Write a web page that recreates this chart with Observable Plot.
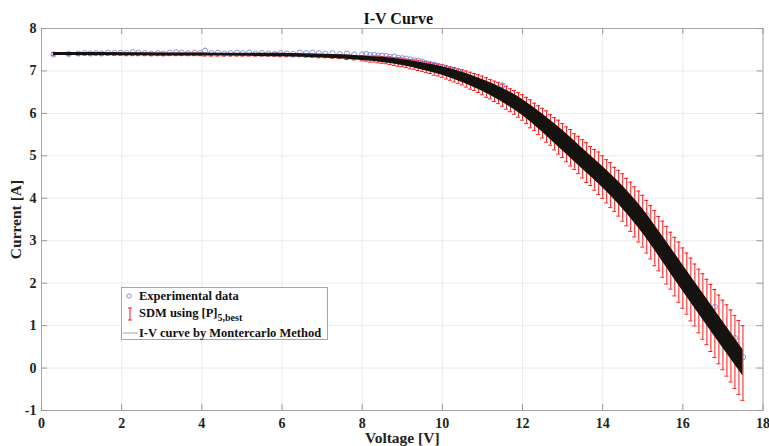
<!DOCTYPE html>
<html><head><meta charset="utf-8">
<script src="https://cdn.jsdelivr.net/npm/d3@7"></script>
<script src="https://cdn.jsdelivr.net/npm/@observablehq/plot@0.6"></script>
<style>
body{margin:0;background:#fff;}
#wrap{position:relative;width:769px;height:446px;}
#legend{position:absolute;left:121px;top:287px;width:205px;height:51px;border:1px solid #a6a6a6;background:#fff;font-family:"Liberation Serif","Times New Roman",serif;font-weight:bold;font-size:12.5px;color:#111;}
#legend .t{position:absolute;left:17px;white-space:nowrap;line-height:14px;}
#legend sub{font-size:10px;vertical-align:-4px;line-height:0;}
</style></head><body><div id="wrap"></div>
<script>
// ---- data ----
const voltage = [
0.30,0.68,0.92,1.08,1.22,1.36,1.50,1.66,1.82,1.98,2.12,2.28,2.42,2.58,2.74,2.90,3.04,3.20,3.36,3.50,3.66,3.82,3.96,4.08,4.24,4.40,4.56,4.72,4.88,5.02,5.18,5.34,5.50,5.66,5.82,5.96,6.12,6.28,6.44,6.60,6.76,6.92,7.08,7.26,7.44,7.62,7.80,
8.0,8.1,8.2,8.3,8.4,8.5,8.6,8.7,8.8,8.9,
9.0,9.1,9.2,9.3,9.4,9.5,9.6,9.7,9.8,9.9,
10.0,10.1,10.2,10.3,10.4,10.5,10.6,10.7,10.8,10.9,
11.0,11.1,11.2,11.3,11.4,11.5,11.6,11.7,11.8,11.9,
12.0,12.1,12.2,12.3,12.4,12.5,12.6,12.7,12.8,12.9,
13.0,13.1,13.2,13.3,13.4,13.5,13.6,13.7,13.8,13.9,
14.0,14.1,14.2,14.3,14.4,14.5,14.6,14.7,14.8,14.9,
15.0,15.1,15.2,15.3,15.4,15.5,15.6,15.7,15.8,15.9,
16.0,16.1,16.2,16.3,16.4,16.5,16.6,16.7,16.8,16.9,
17.0,17.1,17.2,17.3,17.4,17.5];

const currentExp = [
7.39,7.40,7.41,7.42,7.41,7.42,7.41,7.43,7.42,7.43,7.42,7.44,7.43,7.42,7.41,7.42,7.41,7.43,7.44,7.43,7.42,7.43,7.42,7.48,7.42,7.43,7.41,7.42,7.43,7.42,7.43,7.41,7.42,7.41,7.40,7.42,7.41,7.40,7.43,7.42,7.43,7.42,7.41,7.42,7.40,7.41,7.39,
7.39,7.40,7.37,7.38,7.36,7.36,7.35,7.33,7.34,7.31,
7.30,7.29,7.27,7.25,7.24,7.22,7.18,7.16,7.15,7.12,
7.10,7.06,7.03,7.00,6.98,6.94,6.88,6.84,6.80,6.76,
6.71,6.66,6.62,6.57,6.52,6.66,6.41,6.36,6.30,6.24,
6.18,6.10,6.03,5.95,5.88,5.80,5.72,5.64,5.56,5.47,
5.39,5.30,5.22,5.13,5.05,4.96,4.87,4.79,4.70,4.62,
4.53,4.44,4.34,4.25,4.15,4.06,3.95,3.83,3.72,3.61,
3.50,3.59,3.23,3.10,2.97,2.84,2.70,2.57,2.43,2.30,
2.16,2.03,1.89,1.76,1.62,1.49,1.36,1.22,1.44,0.96,
0.82,0.69,0.56,0.71,0.30,0.26];

// SDM model current (error bar centres)
const currentSDM = [
7.40,7.40,7.40,7.40,7.40,7.40,7.40,7.40,7.40,7.40,7.39,7.39,7.39,7.39,7.39,7.39,7.39,7.39,7.39,7.39,7.39,7.39,7.39,7.38,7.38,7.38,7.38,7.38,7.38,7.38,7.38,7.38,7.38,7.38,7.38,7.37,7.37,7.37,7.37,7.36,7.36,7.35,7.35,7.34,7.33,7.32,7.31,
7.30,7.29,7.28,7.28,7.27,7.26,7.25,7.24,7.22,7.21,
7.20,7.18,7.16,7.15,7.13,7.11,7.09,7.07,7.04,7.02,
7.00,6.97,6.94,6.91,6.88,6.85,6.81,6.77,6.74,6.70,
6.66,6.61,6.57,6.52,6.48,6.43,6.37,6.31,6.26,6.20,
6.14,6.07,5.99,5.92,5.84,5.77,5.69,5.61,5.52,5.44,
5.36,5.27,5.19,5.10,5.02,4.93,4.84,4.76,4.67,4.59,
4.50,4.40,4.31,4.21,4.12,4.02,3.91,3.80,3.68,3.57,
3.46,3.33,3.20,3.06,2.93,2.80,2.66,2.53,2.39,2.26,
2.12,1.99,1.85,1.72,1.58,1.45,1.32,1.18,1.05,0.91,
0.78,0.65,0.52,0.38,0.25,0.12];

// half length of each error bar
const errorHalf = [
0.03,0.03,0.03,0.03,0.03,0.03,0.03,0.03,0.03,0.03,0.03,0.03,0.03,0.03,0.03,0.03,0.03,0.03,0.03,0.03,0.03,0.03,0.03,0.03,0.03,0.03,0.03,0.03,0.03,0.03,0.03,0.03,0.03,0.03,0.035,0.035,0.035,0.035,0.035,0.035,0.035,0.04,0.04,0.04,0.04,0.05,0.05,
0.06,0.06,0.07,0.07,0.08,0.08,0.08,0.09,0.09,0.10,
0.10,0.10,0.11,0.11,0.12,0.12,0.13,0.13,0.14,0.14,
0.15,0.16,0.16,0.17,0.17,0.18,0.19,0.20,0.20,0.21,
0.22,0.23,0.23,0.24,0.25,0.26,0.27,0.27,0.28,0.29,
0.30,0.31,0.33,0.32,0.34,0.35,0.37,0.36,0.38,0.40,
0.40,0.41,0.43,0.42,0.44,0.45,0.47,0.46,0.48,0.50,
0.50,0.51,0.53,0.52,0.54,0.56,0.56,0.58,0.59,0.60,
0.61,0.62,0.63,0.65,0.64,0.66,0.68,0.67,0.69,0.71,
0.71,0.72,0.74,0.73,0.75,0.77,0.77,0.79,0.80,0.81,
0.82,0.84,0.85,0.86,0.87,0.88];

// Montecarlo I-V curves envelope
const mcVoltage = [0.3,1,2,3,4,5,6,6.5,7,7.5,8,8.5,9,9.5,10,10.5,11,11.5,12,12.5,13,13.5,14,14.5,15,15.5,16,16.5,17,17.5];
const mcCurrent = [7.40,7.40,7.395,7.39,7.385,7.38,7.375,7.365,7.35,7.33,7.30,7.26,7.20,7.11,7.00,6.85,6.66,6.43,6.14,5.77,5.36,4.93,4.50,4.02,3.46,2.80,2.12,1.45,0.78,0.12];
const mcSpread  = [0.035,0.035,0.035,0.035,0.035,0.035,0.04,0.04,0.045,0.05,0.055,0.06,0.07,0.085,0.10,0.12,0.14,0.165,0.19,0.215,0.24,0.245,0.25,0.27,0.29,0.30,0.31,0.31,0.31,0.31];

const xTicks = [0,2,4,6,8,10,12,14,16,18];
const yTicks = [-1,0,1,2,3,4,5,6,7,8];
const titleText = "I-V Curve";
const xLabel = "Voltage [V]";
const yLabel = "Current [A]";

// ---- build ----
const rows = voltage.map((v, i) => ({v, exp: currentExp[i], fit: currentSDM[i], err: errorHalf[i]}));
const band = mcVoltage.map((v, i) => ({v, lo: mcCurrent[i] - mcSpread[i], hi: mcCurrent[i] + mcSpread[i]}));

const capHalf = 0.05;   // V
const tickLenX = 0.14;  // A (vertical tick length)
const tickLenY = 0.15;  // V (horizontal tick length)
const axisGray = "#a8a8a8";
const serif = '"Liberation Serif","Times New Roman",serif';

const chart = Plot.plot({
  width: 769, height: 446,
  marginLeft: 41, marginRight: 6.5, marginTop: 28, marginBottom: 36,
  x: {domain: [0, 18], axis: null},
  y: {domain: [-1, 8], axis: null},
  style: {fontFamily: serif, fontWeight: "bold", fontSize: "14px", color: "#222", background: "#fff"},
  marks: [
    Plot.gridX(xTicks, {x: d => d, stroke: "#ebebeb", strokeOpacity: 1}),
    Plot.gridY(yTicks, {y: d => d, stroke: "#ebebeb", strokeOpacity: 1}),
    Plot.ruleX(rows, {x: "v", y1: d => d.fit - d.err, y2: d => d.fit + d.err, stroke: "#ff1a1a", strokeWidth: 1}),
    Plot.ruleY(rows, {y: d => d.fit + d.err, x1: d => d.v - capHalf, x2: d => d.v + capHalf, stroke: "#ff1a1a", strokeWidth: 1}),
    Plot.ruleY(rows, {y: d => d.fit - d.err, x1: d => d.v - capHalf, x2: d => d.v + capHalf, stroke: "#ff1a1a", strokeWidth: 1}),
    Plot.dot(rows, {x: "v", y: "exp", r: 2.6, stroke: "#7878d8", strokeWidth: 0.8, fill: "none"}),
    Plot.areaY(band, {x: "v", y1: "lo", y2: "hi", fill: "#14130f", curve: "monotone-x"}),
    Plot.frame({stroke: axisGray}),
    Plot.ruleX(xTicks, {x: d => d, y1: -1, y2: -1 + tickLenX, stroke: "#999"}),
    Plot.ruleX(xTicks, {x: d => d, y1: 8, y2: 8 - tickLenX, stroke: "#999"}),
    Plot.ruleY(yTicks, {y: d => d, x1: 0, x2: tickLenY, stroke: "#999"}),
    Plot.ruleY(yTicks, {y: d => d, x1: 18, x2: 18 - tickLenY, stroke: "#999"}),
    Plot.text(xTicks, {x: d => d, text: d => String(d), frameAnchor: "bottom", lineAnchor: "middle", textAnchor: "middle", dy: 13, fill: "#222"}),
    Plot.text(yTicks, {y: d => d, text: d => String(d), frameAnchor: "left", lineAnchor: "middle", textAnchor: "end", dx: -5, fill: "#222"}),
    Plot.text([titleText], {text: d => d, frameAnchor: "top", lineAnchor: "middle", textAnchor: "middle", dy: -10, dx: -4, fontSize: 16, fill: "#111"}),
    Plot.text([xLabel], {text: d => d, frameAnchor: "bottom", lineAnchor: "middle", textAnchor: "middle", dy: 28, fontSize: 15.5, fill: "#222"}),
    Plot.text([yLabel], {text: d => d, frameAnchor: "left", lineAnchor: "middle", textAnchor: "middle", dx: -25, rotate: -90, fontSize: 15.5, fill: "#222"})
  ]
});
const wrap = document.getElementById("wrap");
wrap.appendChild(chart);

// legend
const legend = document.createElement("div");
legend.id = "legend";
legend.innerHTML = `
<svg width="18" height="51" style="position:absolute;left:0;top:0">
  <circle cx="7" cy="8" r="2.2" fill="none" stroke="#7878d8" stroke-width="0.8"/>
  <line x1="8" x2="8" y1="20" y2="32" stroke="#ff1a1a"/>
  <line x1="6" x2="10" y1="20" y2="20" stroke="#ff1a1a"/>
  <line x1="6" x2="10" y1="32" y2="32" stroke="#ff1a1a"/>
  <line x1="1" x2="16" y1="45" y2="45" stroke="#c4c4c4" stroke-width="1.5"/>
</svg>
<div class="t" style="top:1px">Experimental data</div>
<div class="t" style="top:18px">SDM using [P]<sub>5,best</sub></div>
<div class="t" style="top:38px">I-V curve by Montercarlo Method</div>`;
wrap.appendChild(legend);
</script></body></html>
